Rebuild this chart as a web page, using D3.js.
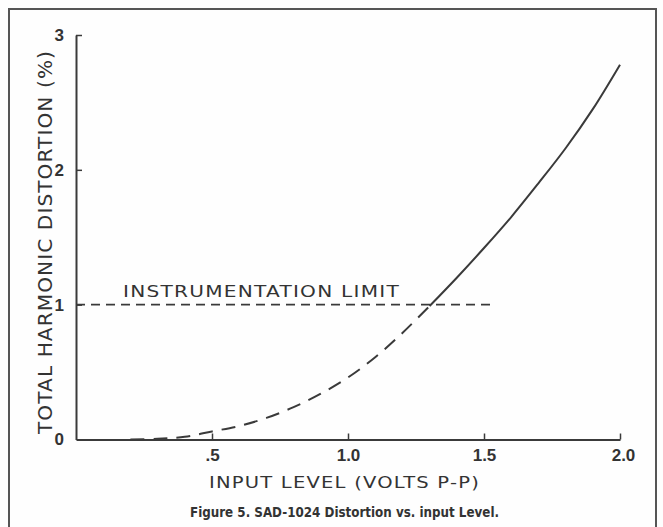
<!DOCTYPE html>
<html>
<head>
<meta charset="utf-8">
<script src="https://cdn.jsdelivr.net/npm/d3@7"></script>
<style>
  html, body { margin: 0; padding: 0; background: #fefefe; }
  svg { display: block; }
  .tick text { font-family: "Liberation Sans", Arial, sans-serif; font-weight: bold; font-size: 17px; fill: #333; }
  .title { font-family: "DejaVu Sans", Verdana, sans-serif; fill: #333; }
</style>
</head>
<body>
<svg id="chart" width="663" height="527"></svg>
<script>
// Input level (V p-p) and total harmonic distortion (%)
const inputLevel = [0.2, 0.3, 0.4, 0.5, 0.6, 0.7, 0.8, 0.9, 1.0, 1.1, 1.2, 1.3, 1.4, 1.5, 1.6, 1.7, 1.8, 1.9, 2.0];
const thdPercent = [0.0, 0.005, 0.02, 0.06, 0.1, 0.16, 0.24, 0.34, 0.46, 0.61, 0.79, 0.99, 1.2, 1.42, 1.65, 1.9, 2.16, 2.45, 2.78];

// Below this input level the curve sits under the instrumentation limit (drawn dashed)
const limitCrossing = 1.3;
const limitValue = 1;
const limitSpan = [0, 1.53];

const xTicks = [0.5, 1.0, 1.5, 2.0];
const xTickLabels = [".5", "1.0", "1.5", "2.0"];
const yTicks = [0, 1, 2, 3];
const yTickLabels = ["0", "1", "2", "3"];

const xTitle = "INPUT LEVEL (VOLTS P-P)";
const yTitle = "TOTAL HARMONIC DISTORTION (%)";
const limitLabel = "INSTRUMENTATION LIMIT";
const caption = "Figure 5.  SAD-1024 Distortion vs. input Level.";

const ink = "#3a3a3a";
const svg = d3.select("#chart");

const x = d3.scaleLinear().domain([0, 2]).range([76, 620]);
const y = d3.scaleLinear().domain([0, 3]).range([439.5, 35]);

// outer frame (open at the bottom)
svg.append("path")
  .attr("d", "M9,527V9H656V527")
  .attr("fill", "none").attr("stroke", "#555").attr("stroke-width", 2);

// axes with inward ticks
const xAxis = svg.append("g")
  .attr("transform", `translate(0,${y(0)})`)
  .call(d3.axisBottom(x).tickValues(xTicks).tickSize(-6).tickSizeOuter(0)
    .tickFormat((d, i) => xTickLabels[i]).tickPadding(9));
xAxis.selectAll("text").attr("dy", "0.71em").attr("dx", (d, i) => i === 3 ? 3 : 0);

const yAxis = svg.append("g")
  .attr("transform", `translate(${x(0)},0)`)
  .call(d3.axisLeft(y).tickValues(yTicks).tickSize(-6).tickSizeOuter(0)
    .tickFormat((d, i) => yTickLabels[i]).tickPadding(12));

[xAxis, yAxis].forEach(g => {
  g.select(".domain").attr("stroke", ink).attr("stroke-width", 2);
  g.selectAll(".tick line").attr("stroke", ink).attr("stroke-width", 1.5);
});
yAxis.selectAll(".tick").filter(d => d === 0).select("line").remove();

// instrumentation limit
svg.append("line")
  .attr("x1", x(limitSpan[0])).attr("x2", x(limitSpan[1]))
  .attr("y1", y(limitValue)).attr("y2", y(limitValue))
  .attr("stroke", ink).attr("stroke-width", 1.6).attr("stroke-dasharray", "9,6");

svg.append("text").attr("class", "title")
  .attr("x", 123).attr("y", 297)
  .attr("textLength", 277).attr("lengthAdjust", "spacingAndGlyphs")
  .style("font-size", "16px").style("letter-spacing", "1px")
  .text(limitLabel);

// distortion curve
const points = inputLevel.map((v, i) => ({ v, t: thdPercent[i] }));
const line = d3.line().x(d => x(d.v)).y(d => y(d.t)).curve(d3.curveCatmullRom.alpha(0.5));

svg.append("path")
  .datum(points.filter(d => d.v <= limitCrossing))
  .attr("d", line)
  .attr("fill", "none").attr("stroke", ink).attr("stroke-width", 2)
  .attr("stroke-dasharray", "14,9");

svg.append("path")
  .datum(points.filter(d => d.v >= limitCrossing))
  .attr("d", line)
  .attr("fill", "none").attr("stroke", ink).attr("stroke-width", 2);

// axis titles
svg.append("text").attr("class", "title")
  .attr("x", 209).attr("y", 488)
  .attr("textLength", 271).attr("lengthAdjust", "spacingAndGlyphs")
  .style("font-size", "16px").style("letter-spacing", "1px")
  .text(xTitle);

svg.append("text").attr("class", "title")
  .attr("transform", "translate(52,434) rotate(-90)")
  .attr("textLength", 384).attr("lengthAdjust", "spacingAndGlyphs")
  .style("font-size", "19px").style("letter-spacing", "1px")
  .text(yTitle);

// caption
svg.append("text")
  .attr("x", 190).attr("y", 517)
  .attr("textLength", 309).attr("lengthAdjust", "spacingAndGlyphs")
  .style("font-family", "'Liberation Sans Narrow', 'DejaVu Sans Condensed', Arial, sans-serif")
  .style("font-size", "14px").style("font-weight", "bold").style("fill", "#333")
  .text(caption);
</script>
</body>
</html>
